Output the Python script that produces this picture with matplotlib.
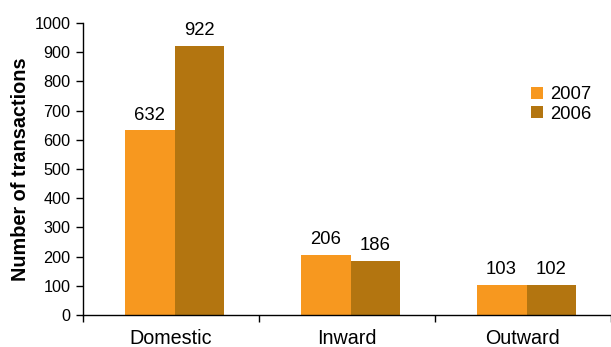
import matplotlib
matplotlib.use("Agg")
import matplotlib.pyplot as plt
import numpy as np

plt.rcParams['font.family'] = ['Liberation Sans', 'DejaVu Sans']

categories = ["Domestic", "Inward", "Outward"]
series_names = ["2007", "2006"]
values_2007 = [632, 206, 103]
values_2006 = [922, 186, 102]
yticks = [0, 100, 200, 300, 400, 500, 600, 700, 800, 900, 1000]

color_2007 = "#F7981F"
color_2006 = "#B37510"

fig = plt.figure(figsize=(6.11, 3.47), dpi=100)
ax = fig.add_axes([83 / 611, 1 - 315 / 347, 1 - 83 / 611, (315 - 23) / 347])

centers = np.arange(len(categories)) + 0.52
width = 0.283
b1 = ax.bar(centers - width / 2, values_2007, width, color=color_2007, label=series_names[0])
b2 = ax.bar(centers + width / 2, values_2006, width, color=color_2006, label=series_names[1])

for bars in (b1, b2):
    for rect in bars:
        h = rect.get_height()
        ax.annotate(f"{h:.0f}", (rect.get_x() + rect.get_width() / 2, h),
                    xytext=(0, 5), textcoords="offset points",
                    ha="center", va="bottom", fontsize=13.3)

ax.set_xlim(0, 3)
ax.set_ylim(0, 1000)
ax.set_yticks(yticks)
ax.set_yticklabels([str(t) for t in yticks], fontsize=11.7)
ax.set_xticks([0, 1, 2, 3])
ax.set_xticklabels([])
ax.set_xticks(np.arange(len(categories)) + 0.5, minor=True)
ax.set_xticklabels(categories, minor=True, fontsize=14.2)
ax.tick_params(axis='x', which='minor', length=0, pad=10)
ax.tick_params(axis='x', which='major', length=5, width=1, direction='out')
ax.tick_params(axis='y', length=5, width=1, direction='out', pad=4)

for s in ("top", "right"):
    ax.spines[s].set_visible(False)
for s in ("left", "bottom"):
    ax.spines[s].set_linewidth(1)
    ax.spines[s].set_color("black")

ax.set_ylabel("Number of transactions", fontsize=14.3, fontweight="bold", labelpad=3)

ax.legend(loc="upper left", bbox_to_anchor=(0.848, 0.783), frameon=False,
          fontsize=13.3, handlelength=0.65, handleheight=0.65, handletextpad=0.4,
          labelspacing=0.12, borderaxespad=0, borderpad=0)

fig.savefig("out.png", dpi=100)
